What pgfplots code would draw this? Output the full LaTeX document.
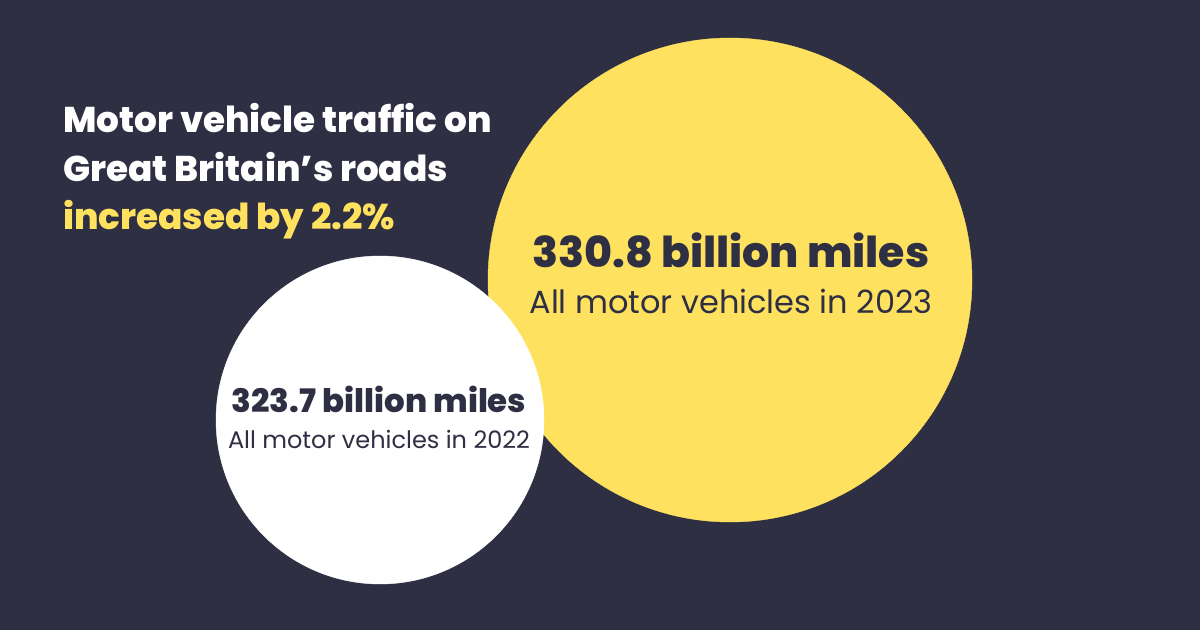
\documentclass[border=0pt]{standalone}
\usepackage{fontspec}
\setmainfont{Poppins}
\newfontfamily\xbold{Poppins}[UprightFont={* ExtraBold}]
\usepackage{pgfplots}
\pgfplotsset{compat=1.18}
\definecolor{bg}{HTML}{2E2F42}
\definecolor{sun}{HTML}{FFE160}
\begin{document}
\begin{tikzpicture}
\begin{axis}[
  x=1pt, y=1pt,
  xmin=0, xmax=1200, ymin=0, ymax=630,
  axis lines=none, ticks=none,
  axis background/.style={fill=bg},
  clip=false,
  set layers=standard,
]
% 2023 (yellow) drawn first, 2022 (white) on top
\addplot[only marks, color=sun, mark=*, mark size=242pt, mark options={fill=sun, draw=sun}]
  coordinates {(730,350)};
\addplot[only marks, color=white, mark=*, mark size=164pt, mark options={fill=white, draw=white}]
  coordinates {(380,210)};

\begin{pgfonlayer}{axis foreground}
\node[anchor=base west, inner sep=0pt, text=white, font=\fontsize{35.8}{40}\selectfont\xbold]
  at (axis cs:63,497) {Motor vehicle traffic on};
\node[anchor=base west, inner sep=0pt, text=white, font=\fontsize{35.8}{40}\selectfont\xbold]
  at (axis cs:63,448) {Great Britain’s roads};
\node[anchor=base west, inner sep=0pt, text=sun, font=\fontsize{35.8}{40}\selectfont\xbold]
  at (axis cs:63,400) {increased by 2.2\%};

\node[anchor=base, inner sep=0pt, text=bg, font=\fontsize{42.6}{46}\selectfont\xbold]
  at (axis cs:731,362) {330.8 billion miles};
\node[anchor=base, inner sep=0pt, text=bg, font=\fontsize{32}{36}\selectfont]
  at (axis cs:731,316) {All motor vehicles in 2023};
\node[anchor=base, inner sep=0pt, text=bg, font=\fontsize{32.4}{36}\selectfont\xbold]
  at (axis cs:379,218) {323.7 billion miles};
\node[anchor=base, inner sep=0pt, text=bg, font=\fontsize{24}{28}\selectfont]
  at (axis cs:379,182) {All motor vehicles in 2022};
\end{pgfonlayer}
\end{axis}
\end{tikzpicture}
\end{document}
